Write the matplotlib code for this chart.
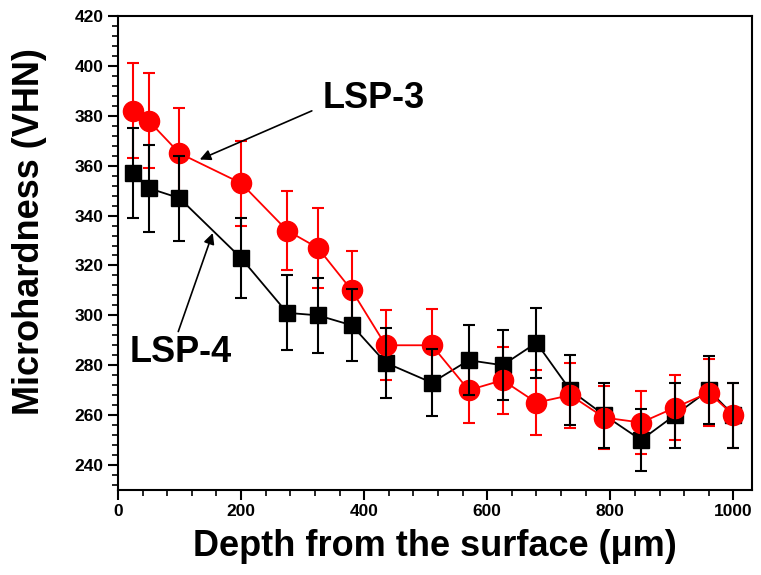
import matplotlib.pyplot as plt
from matplotlib.ticker import MultipleLocator

plt.rcParams['font.family'] = ['Liberation Sans', 'DejaVu Sans']
plt.rcParams['font.weight'] = 'bold'

# depth positions (um)
depth = [25, 50, 100, 200, 275, 325, 380, 435, 510, 570, 625, 680, 735, 790, 850, 905, 960, 1000]

# LSP-3 (red circles)
lsp3 = [382, 378, 365, 353, 334, 327, 310, 288, 288, 270, 274, 265, 268, 259, 257, 263, 269, 260]
lsp3_err = [19, 19, 18, 17, 16, 16, 16, 14, 14.5, 13, 13.5, 13, 13, 12.5, 12.5, 13, 13.5, 13]

# LSP-4 (black squares)
lsp4 = [357, 351, 347, 323, 301, 300, 296, 281, 273, 282, 280, 289, 270, 260, 250, 260, 270, 260]
lsp4_err = [18, 17.5, 17, 16, 15, 15, 14.5, 14, 13.5, 14, 14, 14, 14, 13, 12.5, 13, 13.5, 13]

fig = plt.figure(figsize=(7.61, 5.75), dpi=100)
ax = fig.add_axes([0.155, 0.148, 0.833, 0.824])

# error bars and markers layered like the original
ax.errorbar(depth, lsp3, yerr=lsp3_err, fmt='none', ecolor='red',
            elinewidth=1.5, capsize=4.5, capthick=1.5, zorder=1)
ax.plot(depth, lsp4, color='black', lw=1.3, marker='s', ms=12, zorder=2)
ax.plot(depth, lsp3, color='red', lw=1.3, marker='o', ms=14.5, zorder=3)
ax.errorbar(depth, lsp4, yerr=lsp4_err, fmt='none', ecolor='black',
            elinewidth=1.5, capsize=4.5, capthick=1.5, zorder=4)

# annotations
ax.text(415, 387, 'LSP-3', fontsize=26, fontweight='bold', ha='center', va='center')
ax.annotate('', xy=(133, 362.5), xytext=(315, 382),
            arrowprops=dict(arrowstyle='-|>', color='black', lw=1.2,
                            shrinkA=0, shrinkB=0, mutation_scale=16))
ax.text(102, 285, 'LSP-4', fontsize=26, fontweight='bold', ha='center', va='center')
ax.annotate('', xy=(154, 333), xytext=(98, 293.5),
            arrowprops=dict(arrowstyle='-|>', color='black', lw=1.2,
                            shrinkA=0, shrinkB=0, mutation_scale=16))

ax.set_xlim(0, 1030)
ax.set_ylim(230, 420)
ax.xaxis.set_major_locator(MultipleLocator(200))
ax.xaxis.set_minor_locator(MultipleLocator(40))
ax.yaxis.set_major_locator(MultipleLocator(20))
ax.yaxis.set_minor_locator(MultipleLocator(4))
ax.set_yticks(range(240, 421, 20))

ax.tick_params(which='major', length=7, width=1.5, labelsize=12.5, direction='out')
ax.tick_params(which='minor', length=4, width=1.2, direction='out')
for lab in ax.get_xticklabels() + ax.get_yticklabels():
    lab.set_fontweight('bold')
for sp in ax.spines.values():
    sp.set_linewidth(1.5)

ax.set_xlabel('Depth from the surface (\u03bcm)', fontsize=26, fontweight='bold', labelpad=7)
ax.set_ylabel('Microhardness (VHN)', fontsize=26, fontweight='bold')
ax.yaxis.set_label_coords(-0.112, 0.545)

plt.savefig('out.png', dpi=100)
plt.close()
